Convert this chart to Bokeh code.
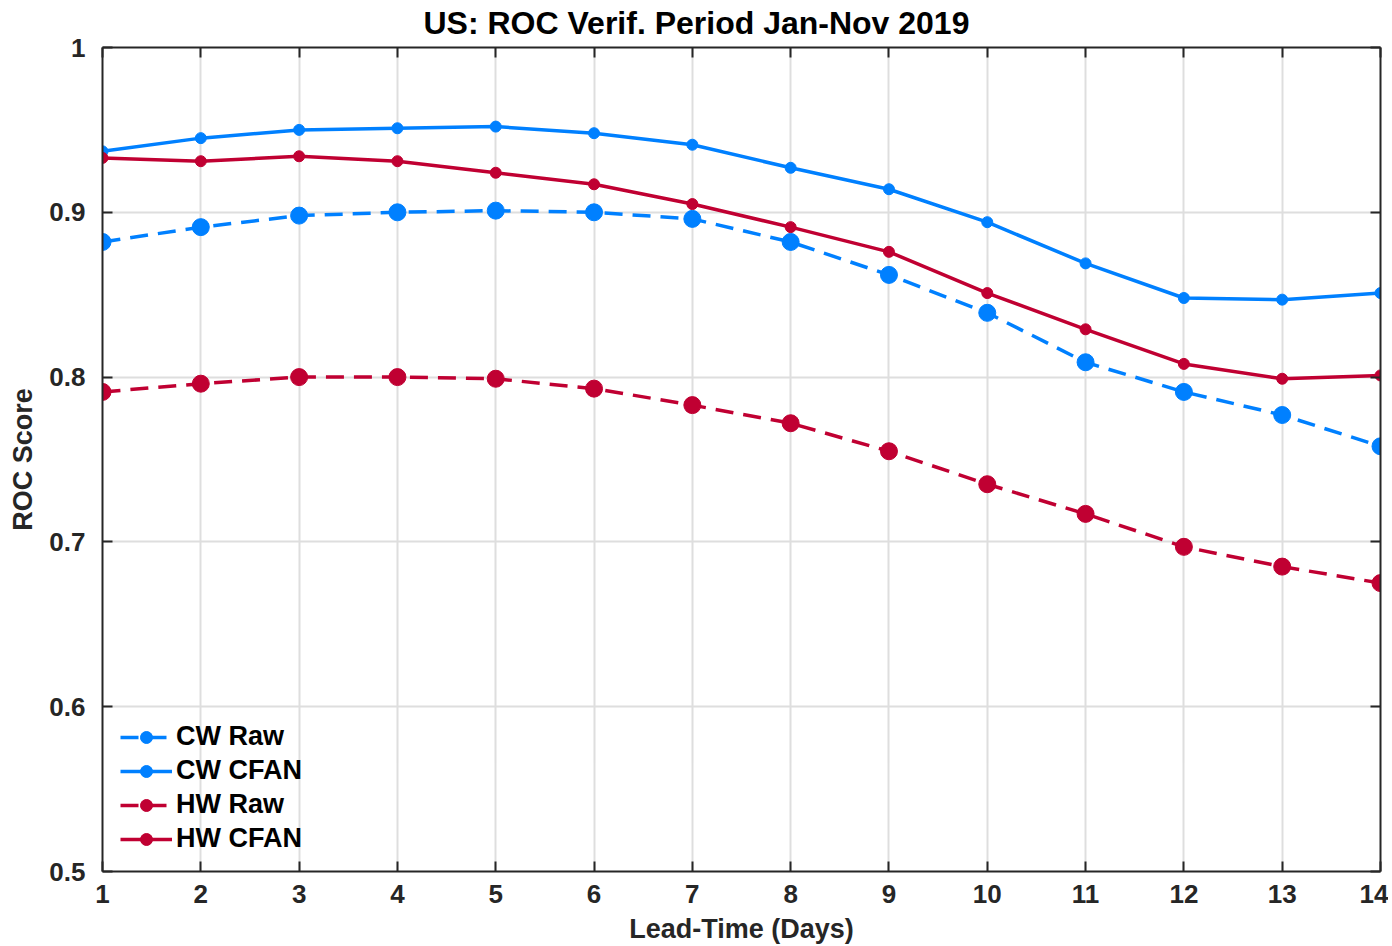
from bokeh.plotting import figure
from bokeh.models import LinearAxis, Legend, LegendItem, FixedTicker, Range1d, CustomLabelingPolicy
from bokeh.embed import file_html
from bokeh.resources import INLINE

days = list(range(1, 15))
cw_raw = [0.882, 0.891, 0.898, 0.900, 0.901, 0.900, 0.896, 0.882, 0.862, 0.839, 0.809, 0.791, 0.777, 0.758]
cw_cfan = [0.937, 0.945, 0.950, 0.951, 0.952, 0.948, 0.941, 0.927, 0.914, 0.894, 0.869, 0.848, 0.847, 0.851]
hw_raw = [0.791, 0.796, 0.800, 0.800, 0.799, 0.793, 0.783, 0.772, 0.755, 0.735, 0.717, 0.697, 0.685, 0.675]
hw_cfan = [0.933, 0.931, 0.934, 0.931, 0.924, 0.917, 0.905, 0.891, 0.876, 0.851, 0.829, 0.808, 0.799, 0.801]
y_ticks = [0.5, 0.6, 0.7, 0.8, 0.9, 1.0]
y_tick_labels = ["0.5", "0.6", "0.7", "0.8", "0.9", "1"]

BLUE = "#0080FF"
RED = "#C00032"
AX = "#262626"
FONT = "Liberation Sans"

p = figure(width=1388, height=946, output_backend="svg", toolbar_location=None,
           x_range=Range1d(1, 14), y_range=Range1d(0.5, 1.0),
           min_border_left=102, min_border_right=8, min_border_top=0, min_border_bottom=10)

p.title.text = "US: ROC Verif. Period Jan-Nov 2019"
p.title.align = "left"
p.title.offset = 321
p.title.text_font = FONT
p.title.text_font_size = "32px"
p.title.text_font_style = "bold"
p.title.text_color = "black"
p.title.standoff = 5

p.xaxis.axis_label = "Lead-Time (Days)"
p.yaxis.axis_label = "ROC Score"
for ax in (p.xaxis[0], p.yaxis[0]):
    ax.axis_label_text_font = FONT
    ax.axis_label_text_font_size = "27px"
    ax.axis_label_text_font_style = "bold"
    ax.axis_label_text_color = AX
    ax.major_label_text_font = FONT
    ax.major_label_text_font_size = "26px"
    ax.major_label_text_font_style = "bold"
    ax.major_label_text_color = AX
    ax.axis_line_width = 2
    ax.axis_line_color = AX
    ax.major_tick_in = 10
    ax.major_tick_out = 0
    ax.major_tick_line_width = 2
    ax.major_tick_line_color = AX
    ax.minor_tick_line_color = None
p.xaxis.ticker = FixedTicker(ticks=days)
p.yaxis.ticker = FixedTicker(ticks=y_ticks)
p.yaxis.major_label_overrides = {t: l for t, l in zip(y_ticks, y_tick_labels)}
p.xaxis.major_label_standoff = 13
p.xaxis.axis_label_standoff = 8
p.yaxis.major_label_standoff = 17
p.yaxis.axis_label_standoff = 8

no_labels = CustomLabelingPolicy(code="""
    for (const i of indices) indices.unset(i)
    return indices
""")
# box axes (top/right) without labels
for loc, ticks in (("right", y_ticks), ("above", days)):
    a = LinearAxis(ticker=FixedTicker(ticks=ticks), major_label_policy=no_labels,
                   axis_line_width=2, axis_line_color=AX, major_tick_in=10, major_tick_out=0,
                   major_tick_line_width=2, major_tick_line_color=AX, minor_tick_line_color=None,
                   major_label_standoff=0, major_label_text_font_size="1px")
    p.add_layout(a, loc)

p.xgrid.ticker = FixedTicker(ticks=days)
p.ygrid.ticker = FixedTicker(ticks=y_ticks)
p.grid.grid_line_color = "#DEDEDE"
p.grid.grid_line_width = 2
p.outline_line_color = None

series = [
    ("CW Raw", cw_raw, BLUE, "18 10", 17),
    ("CW CFAN", cw_cfan, BLUE, "solid", 11),
    ("HW Raw", hw_raw, RED, "18 10", 17),
    ("HW CFAN", hw_cfan, RED, "solid", 11),
]
items = []
for name, vals, col, dash, size in series:
    l = p.line(days, vals, line_color=col, line_width=3.5, line_dash=dash)
    s = p.scatter(days, vals, size=size, fill_color=col, line_color=col)
    items.append(LegendItem(label=name, renderers=[l, s]))

legend = Legend(items=items, location=(18, 17), background_fill_alpha=0, border_line_color=None,
                label_text_font=FONT, label_text_font_size="27px", label_text_font_style="bold",
                label_text_color="black", glyph_width=52, glyph_height=30, label_height=30,
                spacing=3, padding=0, margin=0, label_standoff=4)
p.add_layout(legend, "center")

open("out.html", "w").write(file_html(p, INLINE))
